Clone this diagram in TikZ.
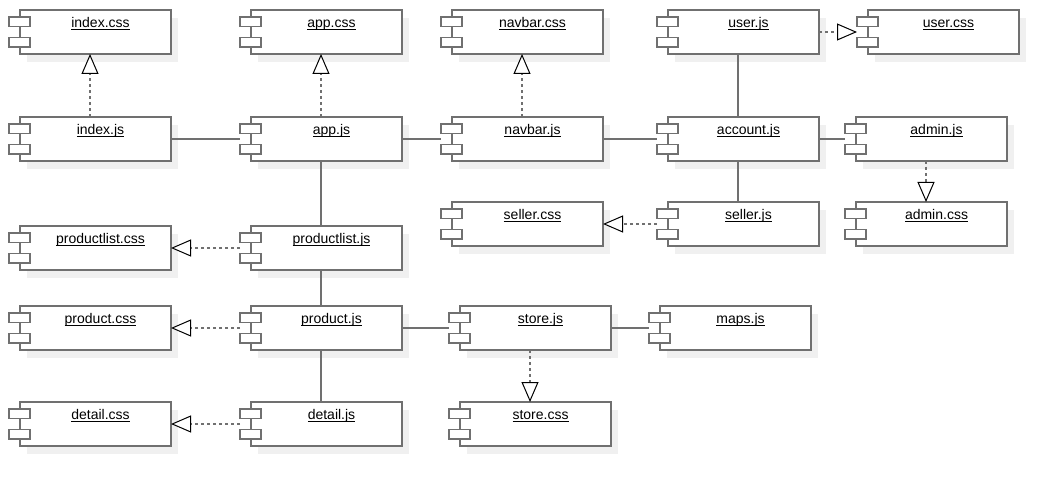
\documentclass[tikz,border=0pt]{standalone}
\usepackage{fontspec}
\setmainfont{Liberation Sans}
\usetikzlibrary{arrows.meta}
\definecolor{edgegray}{HTML}{707070}
\definecolor{shadegray}{HTML}{F0F0F0}
\newsavebox\ulbox
\newcommand\ulabel[1]{\sbox\ulbox{#1}\rlap{\rule[-2.2pt]{\wd\ulbox}{0.9pt}}\usebox\ulbox}
\begin{document}
\begin{tikzpicture}[x=1pt,y=-1pt,
  comp/.style={minimum width=162pt, minimum height=44pt, inner sep=0pt, outer sep=0pt},
  lbl/.style={anchor=base, inner sep=0pt, font=\fontsize{14}{16}\selectfont},
  boxline/.style={draw=edgegray, line width=1.5pt, fill=white},
  assoc/.style={draw=edgegray, line width=1.5pt},
  dep/.style={draw=edgegray, line width=1.5pt, dash pattern=on 3pt off 3pt,
    -{Triangle[open, length=20pt, width=17pt, line width=1pt, color=black, fill=white]}}
]
\useasboundingbox (0,0) rectangle (1059,486);
\def\complist{indexcss/20/10/index.css, appcss/251/10/app.css, navbarcss/452/10/navbar.css,
  userjs/668/10/user.js, usercss/868/10/user.css,
  indexjs/20/117/index.js, appjs/251/117/app.js, navbarjs/452/117/navbar.js,
  accountjs/668/117/account.js, adminjs/856/117/admin.js,
  sellercss/452/202/seller.css, sellerjs/668/202/seller.js, admincss/856/202/admin.css,
  productlistcss/20/226/productlist.css, productlistjs/251/226/productlist.js,
  productcss/20/306/product.css, productjs/251/306/product.js,
  storejs/460/306/store.js, mapsjs/660/306/maps.js,
  detailcss/20/402/detail.css, detailjs/251/402/detail.js, storecss/460/402/store.css}
% shadows
\foreach \n/\l/\t/\s in \complist {
  \fill[shadegray] (\l+7,\t+8) rectangle ++(151,44);
}
% components
\foreach \n/\l/\t/\s in \complist {
  \node[comp] (\n) at (\l+70,\t+22) {};
  \draw[boxline] (\l,\t) rectangle ++(151,44);
  \draw[boxline] (\l-11,\t+7) rectangle ++(21,9.5);
  \draw[boxline] (\l-11,\t+27.5) rectangle ++(21,9.5);
  \node[lbl] (\n-l) at (\l+80.5,\t+17.5) {\ulabel{\s}};
}
% associations
\draw[assoc] (indexjs.east) -- (appjs.west);
\draw[assoc] (appjs.east) -- (navbarjs.west);
\draw[assoc] (navbarjs.east) -- (accountjs.west);
\draw[assoc] (accountjs.east) -- (adminjs.west);
\draw[assoc] (userjs.south) -- (accountjs.north);
\draw[assoc] (accountjs.south) -- (sellerjs.north);
\draw[assoc] (appjs.south) -- (productlistjs.north);
\draw[assoc] (productlistjs.south) -- (productjs.north);
\draw[assoc] (productjs.south) -- (detailjs.north);
\draw[assoc] (productjs.east) -- (storejs.west);
\draw[assoc] (storejs.east) -- (mapsjs.west);
% dependencies
\draw[dep] (indexjs.north) -- (indexcss.south);
\draw[dep] (appjs.north) -- (appcss.south);
\draw[dep] (navbarjs.north) -- (navbarcss.south);
\draw[dep] (userjs.east) -- (usercss.west);
\draw[dep] (adminjs.south) -- (admincss.north);
\draw[dep] (sellerjs.west) -- (sellercss.east);
\draw[dep] (productlistjs.west) -- (productlistcss.east);
\draw[dep] (productjs.west) -- (productcss.east);
\draw[dep] (detailjs.west) -- (detailcss.east);
\draw[dep] (storejs.south) -- (storecss.north);
\end{tikzpicture}
\end{document}
